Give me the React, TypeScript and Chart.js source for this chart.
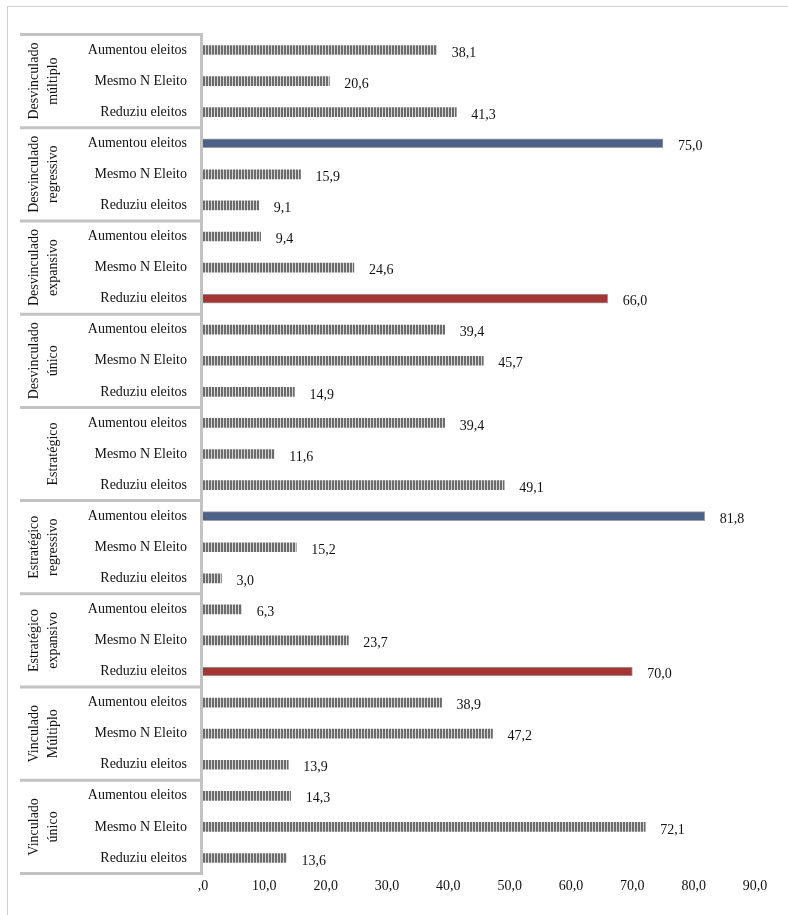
import { useEffect, useRef } from "react";
import { Chart, registerables } from "chart.js";

Chart.register(...registerables);

const groupLabels: string[][] = [
  ["Desvinculado", "múltiplo"],
  ["Desvinculado", "regressivo"],
  ["Desvinculado", "expansivo"],
  ["Desvinculado", "único"],
  ["", "Estratégico"],
  ["Estratégico", "regressivo"],
  ["Estratégico", "expansivo"],
  ["Vinculado", "Múltiplo"],
  ["Vinculado", "único"],
];

const rowLabels = ["Aumentou eleitos", "Mesmo N Eleito", "Reduziu eleitos"];

const values = [
  38.1, 20.6, 41.3,
  75.0, 15.9, 9.1,
  9.4, 24.6, 66.0,
  39.4, 45.7, 14.9,
  39.4, 11.6, 49.1,
  81.8, 15.2, 3.0,
  6.3, 23.7, 70.0,
  38.9, 47.2, 13.9,
  14.3, 72.1, 13.6,
];

const blueRows = [3, 15];
const redRows = [8, 20];

const xTickLabels = [",0", "10,0", "20,0", "30,0", "40,0", "50,0", "60,0", "70,0", "80,0", "90,0"];

const FONT = "'Liberation Serif', 'Times New Roman', serif";

const fmt = (v: number) => v.toFixed(1).replace(".", ",");

export default function App() {
  const ref = useRef<HTMLCanvasElement | null>(null);

  useEffect(() => {
    const canvas = ref.current!;
    const ctx = canvas.getContext("2d")!;

    const pc = document.createElement("canvas");
    pc.width = 3;
    pc.height = 4;
    const p = pc.getContext("2d")!;
    p.fillStyle = "#d6d6d6";
    p.fillRect(0, 0, 3, 4);
    p.fillStyle = "#6c6c6c";
    p.fillRect(0, 0, 2, 4);
    const pattern = ctx.createPattern(pc, "repeat")!;

    const labels: string[] = [];
    groupLabels.forEach(() => rowLabels.forEach((r) => labels.push(r)));

    const bg = values.map((_, i) =>
      blueRows.includes(i) ? "#4e6187" : redRows.includes(i) ? "#a33535" : pattern
    );
    const bw = values.map((_, i) => (blueRows.includes(i) || redRows.includes(i) ? 1 : 0));

    const overlay = {
      id: "overlay",
      afterDatasetsDraw(chart: any) {
        const c = chart.ctx;
        const y = chart.scales.y;
        const x = chart.scales.x;
        const area = chart.chartArea;
        const step = (area.bottom - area.top) / values.length;

        // value labels
        c.save();
        c.font = `14px ${FONT}`;
        c.fillStyle = "#111";
        c.textAlign = "left";
        c.textBaseline = "middle";
        values.forEach((v, i) => {
          const px = x.getPixelForValue(v);
          const py = y.getPixelForValue(i);
          c.fillText(fmt(v), px + 15, py + 3);
        });
        c.restore();

        // group boxes
        c.save();
        c.strokeStyle = "#c3c3c3";
        c.lineWidth = 3;
        const left = 12;
        const axisX = area.left - 1.5;
        for (let g = 0; g <= groupLabels.length; g++) {
          const by = area.top + g * 3 * step;
          c.beginPath();
          c.moveTo(left, by);
          c.lineTo(axisX + 1.5, by);
          c.stroke();
        }
        c.beginPath();
        c.moveTo(axisX, area.top - 1.5);
        c.lineTo(axisX, area.bottom + 1.5);
        c.stroke();
        c.restore();

        // group labels
        c.save();
        c.font = `14px ${FONT}`;
        c.fillStyle = "#111";
        c.textAlign = "center";
        c.textBaseline = "middle";
        groupLabels.forEach((lines, g) => {
          const cy = area.top + (g * 3 + 1.5) * step;
          lines.forEach((line, li) => {
            if (!line) return;
            c.save();
            c.translate(26 + li * 19, cy);
            c.rotate(-Math.PI / 2);
            c.fillText(line, 0, 0);
            c.restore();
          });
        });
        c.restore();
      },
    };

    const chart = new Chart(ctx, {
      type: "bar",
      data: {
        labels,
        datasets: [
          {
            data: values,
            backgroundColor: bg as any,
            borderColor: "#a0a0a0",
            borderWidth: bw,
            barThickness: 9,
          },
        ],
      },
      options: {
        indexAxis: "y",
        responsive: false,
        animation: false,
        layout: { padding: { top: 27.5, right: 33, bottom: 0, left: 0 } },
        plugins: { legend: { display: false }, tooltip: { enabled: false } },
        scales: {
          x: {
            min: 0,
            max: 90,
            grid: { display: false, drawTicks: false },
            border: { display: false },
            afterFit: (s: any) => {
              s.height = 31.5;
            },
            ticks: {
              stepSize: 10,
              padding: 4,
              color: "#111",
              font: { family: FONT, size: 14 },
              callback: (_v: any, i: number) => xTickLabels[i],
            },
          },
          y: {
            grid: { display: false, drawTicks: false },
            border: { display: false },
            afterFit: (s: any) => {
              s.width = 195;
            },
            ticks: {
              padding: 16,
              color: "#111",
              autoSkip: false,
              font: { family: FONT, size: 14 },
            },
          },
        },
      },
      plugins: [overlay],
    });

    return () => chart.destroy();
  }, []);

  return (
    <div
      style={{
        position: "absolute",
        left: 7,
        top: 6,
        width: 781,
        height: 909,
        boxSizing: "border-box",
        borderTop: "1px solid #cfcfcf",
        borderLeft: "1px solid #cfcfcf",
      }}
    >
      <canvas ref={ref} width={780} height={898} style={{ display: "block" }} />
    </div>
  );
}
